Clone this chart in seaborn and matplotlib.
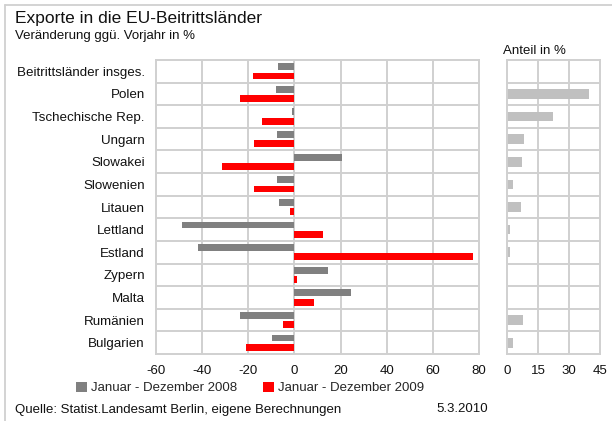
import matplotlib
matplotlib.use("Agg")
import matplotlib.pyplot as plt
from matplotlib.patches import Patch
from matplotlib.lines import Line2D
import seaborn as sns
import pandas as pd

laender = ["Beitrittsländer insges.", "Polen", "Tschechische Rep.", "Ungarn",
           "Slowakei", "Slowenien", "Litauen", "Lettland", "Estland",
           "Zypern", "Malta", "Rumänien", "Bulgarien"]
veraenderung_2008 = [-7, -8, -1.2, -7.7, 20.5, -7.7, -6.8, -48.8, -41.9, 14.5, 24.4, -23.7, -9.8]
veraenderung_2009 = [-18, -23.7, -14.2, -17.6, -31.5, -17.6, -2, 12.3, 77.3, 1, 8.4, -5, -21.1]
anteil = [0, 39.6, 22.2, 8.1, 7.1, 2.8, 6.6, 1.3, 1.3, 0, 0, 7.6, 2.8]
serien = ["Januar - Dezember 2008", "Januar - Dezember 2009"]
xticks_links = [-60, -40, -20, 0, 20, 40, 60, 80]
xticks_rechts = [0, 15, 30, 45]

sns.set_theme(style="white")
plt.rcParams["font.family"] = ["Liberation Sans", "DejaVu Sans"]

GRAU = "#808080"
ROT = "#ff0000"
HELLGRAU = "#c0c0c0"
GITTER = "#d0d0d0"

df = pd.DataFrame({
    "Land": laender * 2,
    "Wert": veraenderung_2008 + veraenderung_2009,
    "Zeitraum": [serien[0]] * len(laender) + [serien[1]] * len(laender),
})
df_anteil = pd.DataFrame({"Land": laender, "Anteil": anteil})

fig = plt.figure(figsize=(6.12, 4.21), dpi=100)
ax = fig.add_axes([156 / 612, 1 - 354 / 421, (479 - 156) / 612, (354 - 60) / 421])
ax2 = fig.add_axes([507 / 612, 1 - 354 / 421, (600 - 507) / 612, (354 - 60) / 421])

sns.barplot(data=df, y="Land", x="Wert", hue="Zeitraum", order=laender,
            hue_order=serien, palette=[GRAU, ROT], orient="h",
            width=0.82, gap=0.26, saturation=1, linewidth=0, legend=False, ax=ax)
sns.barplot(data=df_anteil, y="Land", x="Anteil", order=laender, color=HELLGRAU,
            orient="h", width=0.43, saturation=1, linewidth=0, ax=ax2)

n = len(laender)
for a, ticks in ((ax, xticks_links), (ax2, xticks_rechts)):
    a.set_xlim(ticks[0], ticks[-1])
    a.set_ylim(n - 0.5, -0.5)
    a.set_xticks(ticks)
    a.set_xticklabels([str(t) for t in ticks], fontsize=9.5, color="#111111")
    a.set_xlabel("")
    a.set_ylabel("")
    for t in ticks[1:-1]:
        a.axvline(t, color=GITTER, lw=1.4, zorder=0)
    for k in range(1, n):
        a.axhline(k - 0.5, color=GITTER, lw=1.4, zorder=0)
    for s in a.spines.values():
        s.set_color(GITTER)
        s.set_linewidth(1.4)
    a.tick_params(axis="x", length=0, pad=8)
    a.tick_params(axis="y", length=0, pad=8)

ax.set_yticks(range(n))
ax.set_yticklabels(laender, fontsize=9.6, color="#111111")
ax2.set_yticks([])

# Titel und Anmerkungen
fig.text(15 / 612, 1 - 19 / 421, "Exporte in die EU-Beitrittsländer",
         fontsize=12.5, va="center", ha="left", color="#111111")
fig.text(15 / 612, 1 - 36 / 421, "Veränderung ggü. Vorjahr in %",
         fontsize=9.5, va="center", ha="left", color="#111111")
fig.text(503 / 612, 1 - 51 / 421, "Anteil in %",
         fontsize=9.5, va="center", ha="left", color="#111111")
fig.text(15 / 612, 1 - 410 / 421, "Quelle: Statist.Landesamt Berlin, eigene Berechnungen",
         fontsize=9.5, va="center", ha="left", color="#111111")
fig.text(436 / 612, 1 - 409 / 421, "5.3.2010",
         fontsize=9.5, va="center", ha="left", color="#111111")

handles = [Patch(facecolor=GRAU, edgecolor="none"), Patch(facecolor=ROT, edgecolor="none")]
fig.legend(handles, serien, loc="center left", bbox_to_anchor=(76 / 612, 1 - 388 / 421),
           ncol=2, frameon=False, fontsize=9.5, handlelength=0.8, handleheight=0.8,
           handletextpad=0.3, columnspacing=2.0, borderaxespad=0, borderpad=0)

# Rahmen oben und links
fig.add_artist(Line2D([5 / 612, 5 / 612], [0, 1 - 5 / 421], transform=fig.transFigure,
                      color=GITTER, lw=1.3))
fig.add_artist(Line2D([5 / 612, 1], [1 - 5 / 421, 1 - 5 / 421], transform=fig.transFigure,
                      color=GITTER, lw=1.3))

fig.savefig("out.png", dpi=100)
